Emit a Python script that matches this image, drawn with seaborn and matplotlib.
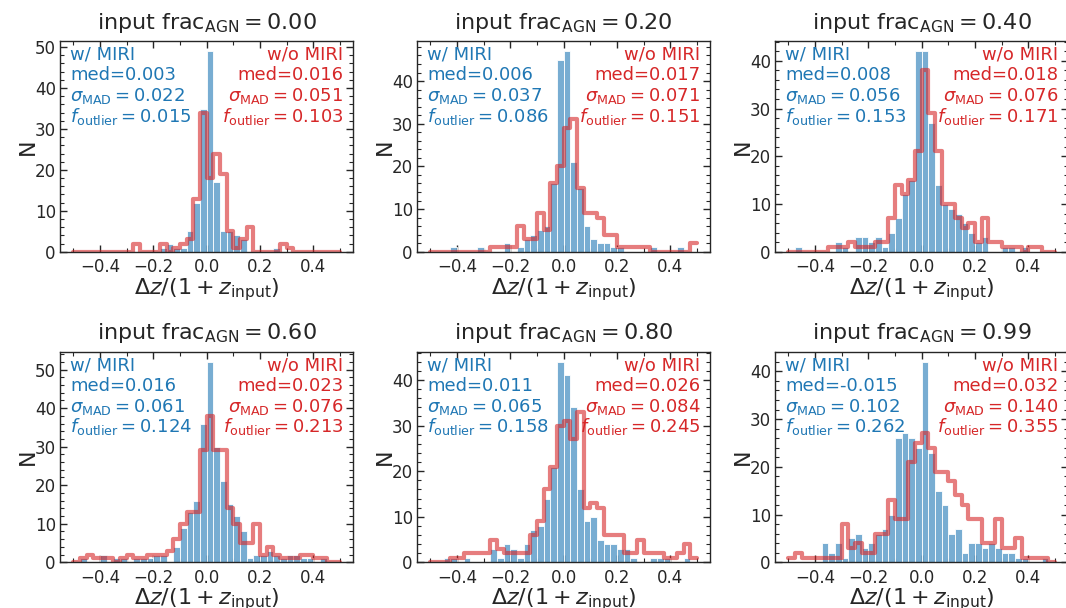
import numpy as np
import pandas as pd
import matplotlib
matplotlib.use("Agg")
import matplotlib.pyplot as plt
import seaborn as sns
from matplotlib.ticker import MultipleLocator, AutoMinorLocator

# ---------------- data ----------------
edges = np.linspace(-0.5, 0.5, 41)          # bin edges of dz/(1+z)
centers = 0.5 * (edges[:-1] + edges[1:])

frac_labels = ["0.00", "0.20", "0.40", "0.60", "0.80", "0.99"]

blue_00 = [0,0,0,0,0, 0,0,0,0,0, 0,0,0,1,2, 1,1,5,12,35, 49,17,5,5,4, 3,0,0,0,0, 1,0,0,0,0, 0,0,0,0,0]
red_00  = [0,0,0,0,0, 0,0,0,0,2, 0,0,0,2,0, 1,2,3,13,34, 18,24,19,5,1, 3,6,0,0,0, 0,2,1,0,0, 0,0,0,0,0]

blue_20 = [0,0,0,1,0, 0,0,1,0,0, 0,2,0,1,3, 4,5,6,16,45, 47,21,15,6,3, 2,2,1,1,0, 0,0,0,1,0, 0,0,1,0,0]
red_20  = [0,0,0,0,0, 0,0,0,0,1, 1,1,1,6,3, 3,9,5,16,20, 29,31,15,9,9, 8,4,4,1,1, 1,1,1,0,0, 0,0,0,0,2]

blue_40 = [0,1,0,0,0, 0,0,2,1,0, 3,3,2,3,1, 4,7,12,15,42, 42,27,14,10,9, 8,6,4,2,3, 0,0,1,1,0, 1,0,0,0,0]
red_40  = [0,0,0,0,0, 0,1,1,1,2, 1,1,1,2,2, 7,14,12,15,21, 38,29,21,10,10, 7,5,6,2,7, 2,2,1,1,1, 0,1,1,0,0]

blue_60 = [0,1,0,0,2, 0,1,1,0,1, 1,1,2,2,0, 4,9,13,16,36, 52,30,21,15,12, 8,1,2,2,3, 2,1,2,2,1, 1,0,1,0,0]
red_60  = [0,1,2,1,1, 1,0,1,2,1, 1,2,2,2,3, 6,10,13,13,29, 38,29,29,14,10, 5,5,10,2,4, 2,1,1,1,2, 2,1,1,0,0]

blue_80 = [0,0,1,1,0, 1,0,0,0,3, 1,4,3,1,4, 7,8,14,21,44, 41,34,16,9,10, 5,4,4,3,3, 1,0,0,1,1, 1,0,0,1,0]
red_80  = [0,0,0,1,1, 2,2,2,2,5, 3,2,2,2,2, 6,9,16,21,30, 31,27,33,12,13, 12,6,6,6,2, 2,5,2,2,2, 1,1,2,4,1]

blue_99 = [0,0,0,0,0, 4,2,4,1,5, 6,3,4,6,7, 10,26,27,26,24, 42,23,15,12,6, 7,2,4,4,3, 4,3,2,2,1, 1,0,0,1,0]
red_99  = [1,2,1,1,1, 1,1,1,8,3, 4,2,2,6,6, 13,9,9,21,25, 27,24,19,19,17, 14,12,9,9,4, 4,9,3,3,5, 1,1,1,1,0]

blue_sets = [blue_00, blue_20, blue_40, blue_60, blue_80, blue_99]
red_sets = [red_00, red_20, red_40, red_60, red_80, red_99]

med_w   = ["0.003", "0.006", "0.008", "0.016", "0.011", "-0.015"]
sig_w   = ["0.022", "0.037", "0.056", "0.061", "0.065", "0.102"]
fout_w  = ["0.015", "0.086", "0.153", "0.124", "0.158", "0.262"]
med_wo  = ["0.016", "0.017", "0.018", "0.023", "0.026", "0.032"]
sig_wo  = ["0.051", "0.071", "0.076", "0.076", "0.084", "0.140"]
fout_wo = ["0.103", "0.151", "0.171", "0.213", "0.245", "0.355"]

# ---------------- style ----------------
sns.set_theme(style="ticks")
plt.rcParams["font.family"] = ["DejaVu Sans"]
plt.rcParams["mathtext.fontset"] = "dejavusans"

BLUE = "#1f77b4"
RED = "#d62728"

fig = plt.figure(figsize=(10.66, 6.08), dpi=100)
W, H = 1066.0, 608.0
lefts = [60, 417, 775]
bottoms = [251.7, 562.3]
aw, ah = 293.3, 210.5
bin_list = edges.tolist()

for i in range(6):
    r, c = divmod(i, 3)
    ax = fig.add_axes([lefts[c] / W, 1 - bottoms[r] / H, aw / W, ah / H])
    df = pd.DataFrame({"dz": centers,
                       "with_miri": np.array(blue_sets[i], dtype=float),
                       "without_miri": np.array(red_sets[i], dtype=float)})
    sns.histplot(data=df, x="dz", weights="with_miri", bins=bin_list, ax=ax,
                 color=BLUE, alpha=0.6, edgecolor="white", linewidth=0.6,
                 element="bars")
    sns.histplot(data=df, x="dz", weights="without_miri", bins=bin_list, ax=ax,
                 element="step", fill=False, color=RED, alpha=0.6, linewidth=3)
    ymax = max(df["with_miri"].max(), df["without_miri"].max()) * 1.05
    ax.set_xlim(-0.55, 0.55)
    ax.set_ylim(0, ymax)
    ax.xaxis.set_major_locator(MultipleLocator(0.2))
    ax.xaxis.set_minor_locator(MultipleLocator(0.1))
    ax.yaxis.set_major_locator(MultipleLocator(10))
    ax.yaxis.set_minor_locator(AutoMinorLocator(5))
    ax.tick_params(which="both", direction="in", top=True, right=True,
                   labelsize=12, color="0.15")
    ax.tick_params(axis="x", which="major", pad=4.5)
    ax.tick_params(axis="y", which="major", pad=3)
    ax.tick_params(which="major", length=5, width=1)
    ax.tick_params(which="minor", length=3, width=0.8)
    for s in ax.spines.values():
        s.set_linewidth(1.0)
        s.set_color("0.15")
    ax.set_xticks([-0.4, -0.2, 0.0, 0.2, 0.4])
    ax.set_xticklabels(["\u22120.4", "\u22120.2", "0.0", "0.2", "0.4"])
    ax.set_xlabel(r"$\Delta z/(1+z_{\rm input})$", fontsize=16, labelpad=0)
    ax.set_ylabel("N", fontsize=16)
    ax.yaxis.set_label_coords(-0.075, 0.5)
    ax.set_title(r"input frac$_{\rm AGN}=$" + r"$" + frac_labels[i] + r"$",
                 fontsize=16, pad=9)

    ys = [0.912, 0.8135, 0.7136, 0.618]
    lines_w = ["w/ MIRI", "med=" + med_w[i],
               r"$\sigma_{\rm MAD}=" + sig_w[i] + "$",
               r"$f_{\rm outlier}=" + fout_w[i] + "$"]
    lines_wo = ["w/o MIRI", "med=" + med_wo[i],
                r"$\sigma_{\rm MAD}=" + sig_wo[i] + "$",
                r"$f_{\rm outlier}=" + fout_wo[i] + "$"]
    for y, tw, two in zip(ys, lines_w, lines_wo):
        ax.text(0.034, y, tw, transform=ax.transAxes, color=BLUE,
                fontsize=13, ha="left", va="baseline")
        ax.text(0.966, y, two, transform=ax.transAxes, color=RED,
                fontsize=13, ha="right", va="baseline")

fig.savefig("out.png", dpi=100)
